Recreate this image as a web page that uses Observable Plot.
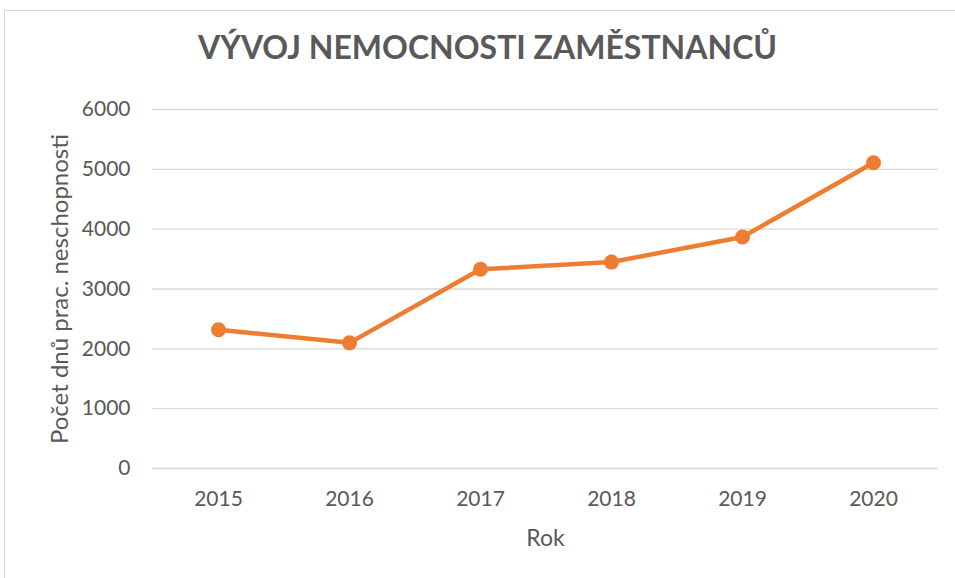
<!DOCTYPE html>
<html>
<head>
<meta charset="utf-8">
<script src="https://cdn.jsdelivr.net/npm/d3@7"></script>
<script src="https://cdn.jsdelivr.net/npm/@observablehq/plot@0.6"></script>
<style>
  html, body { margin: 0; padding: 0; background: #fff; }
  #wrap { position: relative; width: 955px; height: 578px; overflow: hidden; font-family: Lato, "Open Sans", sans-serif; }
  #frame { position: absolute; left: 4px; top: 10px; width: 970px; height: 600px; border: 1px solid #d9d9d9; box-sizing: border-box; }
  #title { position: absolute; left: 0; top: 27px; width: 975px; text-align: center; font-size: 32px; font-weight: 700; color: #595959; line-height: 40px; }
  #chart { position: absolute; left: 0; top: 0; }
</style>
</head>
<body>
<div id="wrap">
  <div id="frame"></div>
  <div id="title">VÝVOJ NEMOCNOSTI ZAMĚSTNANCŮ</div>
  <div id="chart"></div>
</div>
<script>
const years = ["2015", "2016", "2017", "2018", "2019", "2020"];
const days = [2320, 2100, 3330, 3450, 3870, 5110];
const yTicks = [0, 1000, 2000, 3000, 4000, 5000, 6000];
const xLabel = "Rok";
const yLabel = "Počet dnů prac. neschopnosti";

const data = years.map((y, i) => ({year: y, value: days[i]}));

const chart = Plot.plot({
  width: 955,
  height: 578,
  marginTop: 109,
  marginBottom: 110,
  marginLeft: 152,
  marginRight: 17,
  style: {fontFamily: "Lato, 'Open Sans', sans-serif", fontSize: "18px", color: "#595959", background: "transparent"},
  x: {type: "point", domain: years, padding: 0.5, label: null},
  y: {domain: [0, 6000], ticks: yTicks, label: null},
  marks: [
    Plot.gridY(yTicks, {stroke: "#d9d9d9", strokeOpacity: 1, strokeWidth: 1.3}),
    Plot.axisY(yTicks, {tickSize: 0, tickPadding: 22, fontSize: 21, fill: "#595959", label: null, tickFormat: d => String(d)}),
    Plot.axisX(years, {tickSize: 0, tickPadding: 23, fontSize: 21, fill: "#595959", label: null}),
    Plot.text([yLabel], {frameAnchor: "left", textAnchor: "middle", lineAnchor: "middle", rotate: -90, dx: -92, fontSize: 24, fill: "#595959", text: d => d}),
    Plot.text([xLabel], {frameAnchor: "bottom", textAnchor: "middle", lineAnchor: "middle", dy: 70, fontSize: 23, fill: "#595959", text: d => d}),
    Plot.line(data, {x: "year", y: "value", stroke: "#ED7D31", strokeWidth: 4.5, strokeLinejoin: "round"}),
    Plot.dot(data, {x: "year", y: "value", r: 7.5, fill: "#ED7D31", stroke: "none"})
  ]
});
document.getElementById("chart").appendChild(chart);
</script>
</body>
</html>
